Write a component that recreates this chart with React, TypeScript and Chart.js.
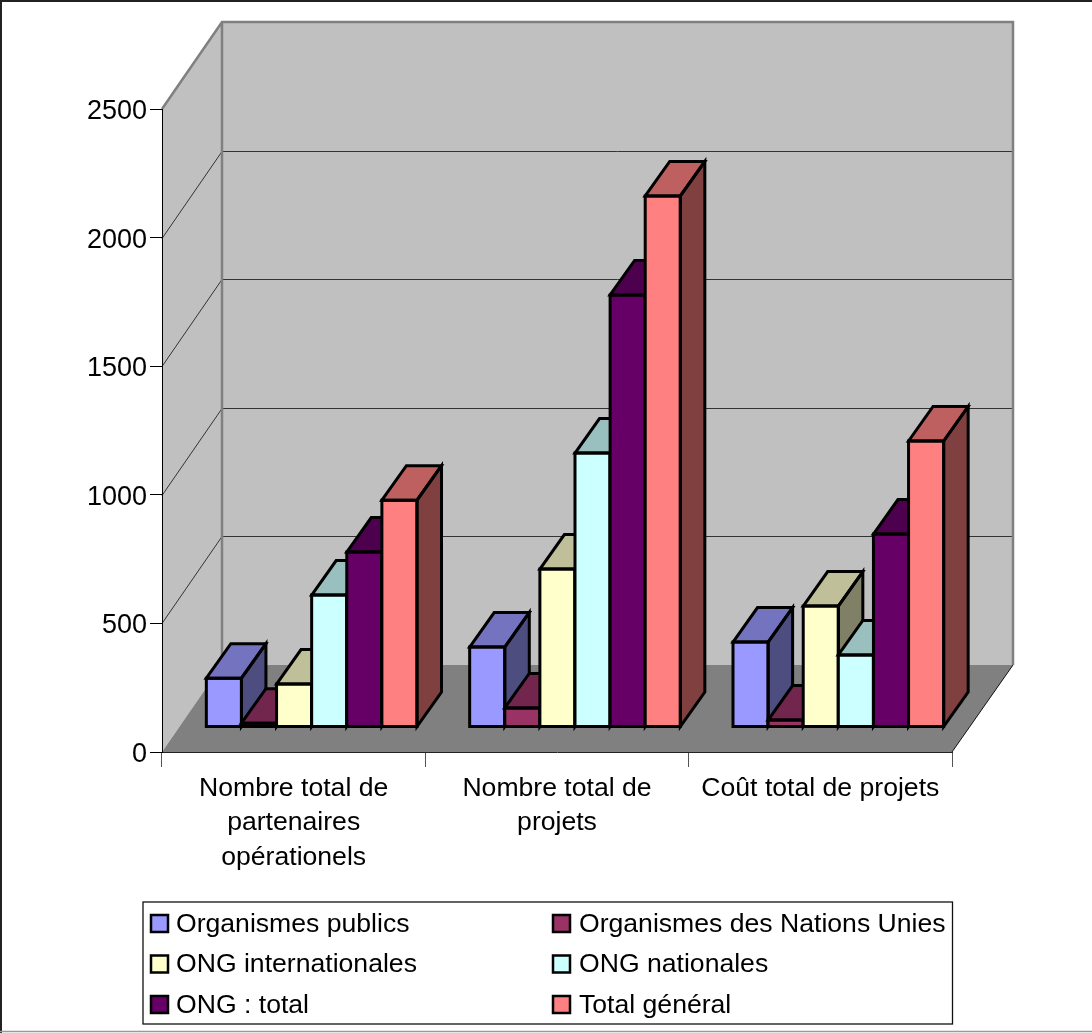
import React, { useEffect, useRef } from "react";
import { Chart, registerables } from "chart.js";

Chart.register(...registerables);

const categories = [
  ["Nombre total de", "partenaires", "opérationels"],
  ["Nombre total de", "projets"],
  ["Coût total de projets"],
];

const seriesNames = [
  "Organismes publics",
  "Organismes des Nations Unies",
  "ONG internationales",
  "ONG nationales",
  "ONG : total",
  "Total général",
];

const organismesPublics = [190, 311, 330];
const organismesNU = [15, 74, 27];
const ongInternationales = [167, 614, 470];
const ongNationales = [513, 1065, 280];
const ongTotal = [680, 1680, 750];
const totalGeneral = [882, 2065, 1112];

const seriesValues = [
  organismesPublics,
  organismesNU,
  ongInternationales,
  ongNationales,
  ongTotal,
  totalGeneral,
];

const seriesColors = ["#9999FF", "#993366", "#FFFFCC", "#CCFFFF", "#660066", "#FF8080"];

const FONT = '"Liberation Sans", Arial, sans-serif';
const WIDTH = 1092;
const HEIGHT = 1033;

// Oblique projection: full depth of the box, offset of the bars' front face, and bar depth.
const BOX_DX = 60;
const BOX_DY = -87;
const BAR_SHIFT_X = 18;
const BAR_SHIFT_Y = -25;
const BAR_DX = 24.5;
const BAR_DY = -34.5;

const WALL = "#C0C0C0";
const FLOOR = "#808080";
const EDGE = "#808080";

function shade(hex: string, factor: number) {
  const n = parseInt(hex.slice(1), 16);
  const r = Math.round(((n >> 16) & 255) * factor);
  const g = Math.round(((n >> 8) & 255) * factor);
  const b = Math.round((n & 255) * factor);
  return `rgb(${r},${g},${b})`;
}

function poly(ctx: CanvasRenderingContext2D, pts: number[][]) {
  ctx.beginPath();
  pts.forEach(([x, y], i) => (i ? ctx.lineTo(x, y) : ctx.moveTo(x, y)));
  ctx.closePath();
}

// Walls, floor and gridlines of the 3D box, plus the thin frame round the page.
const boxPlugin = {
  id: "box3d",
  beforeDraw(chart: any) {
    const { ctx, chartArea: a, scales } = chart;
    const { left: l, right: r, top: t, bottom: b } = a;
    ctx.save();

    ctx.fillStyle = "#fff";
    ctx.fillRect(0, 0, WIDTH, HEIGHT);

    ctx.strokeStyle = "#222";
    ctx.lineWidth = 2;
    ctx.beginPath();
    ctx.moveTo(0, 1);
    ctx.lineTo(WIDTH, 1);
    ctx.moveTo(1, 0);
    ctx.lineTo(1, HEIGHT);
    ctx.stroke();
    ctx.strokeStyle = "#999";
    ctx.lineWidth = 1.5;
    ctx.beginPath();
    ctx.moveTo(0, 1031.5);
    ctx.lineTo(WIDTH, 1031.5);
    ctx.stroke();

    ctx.fillStyle = WALL;
    poly(ctx, [[l, t], [l + BOX_DX, t + BOX_DY], [l + BOX_DX, b + BOX_DY], [l, b]]);
    ctx.fill();
    poly(ctx, [
      [l + BOX_DX, t + BOX_DY],
      [r + BOX_DX + 1, t + BOX_DY],
      [r + BOX_DX + 1, b + BOX_DY],
      [l + BOX_DX, b + BOX_DY],
    ]);
    ctx.fill();

    ctx.fillStyle = FLOOR;
    poly(ctx, [[l, b], [l + BOX_DX, b + BOX_DY], [r + BOX_DX + 1, b + BOX_DY], [r, b]]);
    ctx.fill();

    // Gridlines run along the side wall and across the back wall.
    ctx.strokeStyle = "#333";
    ctx.lineWidth = 1;
    for (const tick of scales.y.ticks) {
      if (tick.value === 0 || tick.value === scales.y.max) continue;
      const y = Math.round(scales.y.getPixelForValue(tick.value)) + 0.5;
      ctx.beginPath();
      ctx.moveTo(l, y);
      ctx.lineTo(l + BOX_DX, y + BOX_DY);
      ctx.lineTo(r + BOX_DX + 1, y + BOX_DY);
      ctx.stroke();
    }

    // Heavy edges of the walls.
    ctx.strokeStyle = EDGE;
    ctx.lineWidth = 2.5;
    ctx.beginPath();
    ctx.moveTo(l, t);
    ctx.lineTo(l + BOX_DX, t + BOX_DY);
    ctx.lineTo(r + BOX_DX + 1, t + BOX_DY);
    ctx.lineTo(r + BOX_DX + 1, b + BOX_DY);
    ctx.moveTo(l + BOX_DX, t + BOX_DY);
    ctx.lineTo(l + BOX_DX, b + BOX_DY);
    ctx.stroke();

    // Outer edge of the floor on the right.
    ctx.strokeStyle = "#111";
    ctx.lineWidth = 1;
    ctx.beginPath();
    ctx.moveTo(r, b);
    ctx.lineTo(r + BOX_DX + 1, b + BOX_DY);
    ctx.stroke();

    ctx.restore();
  },
};

function barFaces(el: any) {
  const { x, y, base, width } = el.getProps(["x", "y", "base", "width"], true);
  const left = x - width / 2;
  const right = x + width / 2;
  return {
    front: [[left, y], [right, y], [right, base], [left, base]],
    top: [[left, y], [left + BAR_DX, y + BAR_DY], [right + BAR_DX, y + BAR_DY], [right, y]],
    side: [[right, y], [right + BAR_DX, y + BAR_DY], [right + BAR_DX, base + BAR_DY], [right, base]],
  };
}

// Extrudes the bars. Series paint first to last so that later ones cover the side
// faces of earlier ones; each is shifted into the box, its top and side go under the
// front faces that the controller fills, and the outlines go over them.
const extrudePlugin = {
  id: "extrude",
  beforeDatasetsDraw(chart: any) {
    const { ctx } = chart;
    for (const meta of chart.getSortedVisibleDatasetMetas()) {
      const color = chart.data.datasets[meta.index].backgroundColor;
      ctx.save();
      ctx.translate(BAR_SHIFT_X, BAR_SHIFT_Y);
      for (const el of meta.data) {
        const f = barFaces(el);
        ctx.fillStyle = shade(color, 0.5);
        poly(ctx, f.side);
        ctx.fill();
        ctx.fillStyle = shade(color, 0.75);
        poly(ctx, f.top);
        ctx.fill();
      }
      meta.controller.draw();
      ctx.strokeStyle = "#000";
      ctx.lineWidth = 3;
      ctx.lineJoin = "miter";
      for (const el of meta.data) {
        const f = barFaces(el);
        poly(ctx, f.side);
        ctx.stroke();
        poly(ctx, f.top);
        ctx.stroke();
        poly(ctx, f.front);
        ctx.stroke();
      }
      ctx.restore();
    }
    return false;
  },
};

// Two-column boxed legend, in reading order.
const legendPlugin = {
  id: "boxedLegend",
  afterDraw(chart: any) {
    const { ctx } = chart;
    const box = { x: 143, y: 902, w: 809.5, h: 122 };
    const colX = [151, 553];
    const textGap = [25, 26];
    const rowY = [923.5, 964, 1004.5];
    ctx.save();
    ctx.fillStyle = "#fff";
    ctx.fillRect(box.x, box.y, box.w, box.h);
    ctx.strokeStyle = "#111";
    ctx.lineWidth = 1.3;
    ctx.strokeRect(box.x, box.y, box.w, box.h);
    ctx.font = `26.6px ${FONT}`;
    ctx.textBaseline = "middle";
    chart.data.datasets.forEach((ds: any, i: number) => {
      const x = colX[i % 2];
      const y = rowY[Math.floor(i / 2)];
      ctx.fillStyle = ds.backgroundColor;
      ctx.fillRect(x, y - 8.5, 17, 17);
      ctx.strokeStyle = "#000";
      ctx.lineWidth = 2.5;
      ctx.strokeRect(x, y - 8.5, 17, 17);
      ctx.fillStyle = "#000";
      ctx.fillText(ds.label, x + textGap[i % 2], y + 1);
    });
    ctx.restore();
  },
};

export default function App() {
  const ref = useRef<HTMLCanvasElement>(null);

  useEffect(() => {
    if (!ref.current) return;
    const chart = new Chart(ref.current, {
      type: "bar",
      data: {
        labels: categories,
        datasets: seriesNames.map((label, i) => ({
          label,
          data: seriesValues[i],
          backgroundColor: seriesColors[i],
          borderWidth: 0,
          inflateAmount: 0,
          barPercentage: 1,
          categoryPercentage: 0.8,
        })),
      },
      options: {
        animation: false,
        responsive: false,
        devicePixelRatio: 1,
        layout: { padding: { top: 109, right: 140, left: 0, bottom: 0 } },
        plugins: { legend: { display: false }, tooltip: { enabled: false } },
        scales: {
          x: {
            offset: true,
            afterFit: (s: any) => {
              s.height = HEIGHT - 752;
            },
            border: { display: true, color: "#222", width: 1 },
            grid: {
              drawOnChartArea: false,
              drawTicks: true,
              tickLength: 15,
              color: "#555",
              offset: true,
            },
            ticks: {
              color: "#000",
              font: { family: FONT, size: 26.6, lineHeight: 1.3 },
              padding: 4,
              maxRotation: 0,
              autoSkip: false,
            },
          },
          y: {
            min: 0,
            max: 2500,
            afterFit: (s: any) => {
              s.width = 162;
            },
            border: { display: true, color: "#000", width: 1 },
            grid: {
              drawOnChartArea: false,
              drawTicks: true,
              tickLength: 12,
              color: "#000",
            },
            ticks: {
              stepSize: 500,
              color: "#000",
              // The empty first line with a small line height lowers the digits onto the tick.
              font: { family: FONT, size: 27, lineHeight: "5px" },
              padding: 3,
              callback: (v: any) => ["", String(v)],
            },
          },
        },
      },
      plugins: [boxPlugin, extrudePlugin, legendPlugin],
    } as any);
    return () => chart.destroy();
  }, []);

  return (
    <canvas
      ref={ref}
      width={WIDTH}
      height={HEIGHT}
      style={{ position: "absolute", left: 0, top: 0, display: "block" }}
    />
  );
}
